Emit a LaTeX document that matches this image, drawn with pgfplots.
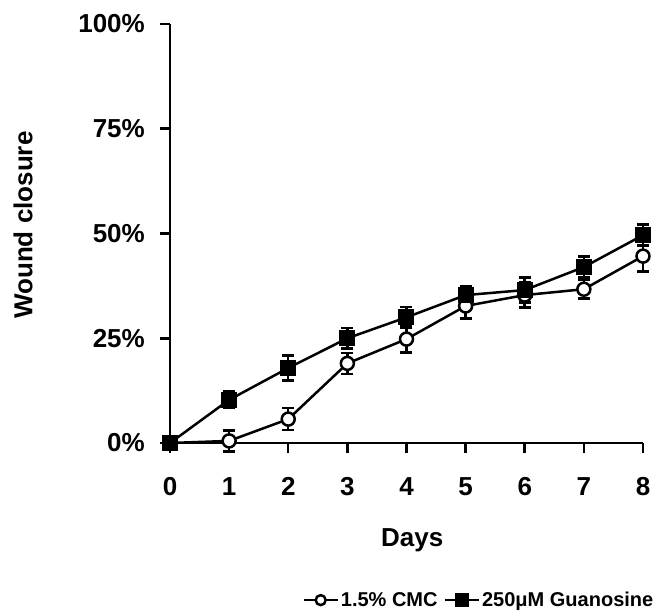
\documentclass[border=0pt]{standalone}
\usepackage{pgfplots}
\pgfplotsset{compat=1.18}
\usepackage{fontspec}
\setmainfont{Liberation Sans}
\begin{document}
\begin{tikzpicture}
\begin{axis}[
  at={(0,0)}, anchor=south west,
  scale only axis,
  width=473pt, height=419pt,
  xmin=0, xmax=8, ymin=0, ymax=100,
  axis lines=left,
  axis line style={-, line width=2.5pt},
  clip=false,
  tick align=outside,
  xtick pos=left, ytick pos=left,
  major tick length=10pt,
  tick style={line width=2.5pt, black},
  xtick={0,1,2,3,4,5,6,7,8},
  xticklabels={0,1,2,3,4,5,6,7,8},
  ytick={0,25,50,75,100},
  yticklabels={0\%,25\%,50\%,75\%,100\%},
  tick label style={font=\fontsize{26}{30}\selectfont\bfseries, inner sep=0pt},
  xticklabel style={anchor=north, yshift=-24pt},
  yticklabel style={anchor=east, xshift=-15pt},
  xlabel={Days},
  ylabel={Wound closure},
  label style={font=\fontsize{26}{30}\selectfont\bfseries, inner sep=0pt},
  xlabel style={at={([yshift=-85pt]rel axis cs:0.512,0)}, anchor=north},
  ylabel style={at={([xshift=-147pt]rel axis cs:0,0.52)}, anchor=center, rotate=0},
  legend columns=2,
  legend style={draw=none, fill=none, font=\fontsize{20}{24}\selectfont\bfseries,
    at={(rel axis cs:0.653,-0.375)}, anchor=center,
    /tikz/every even column/.append style={column sep=4pt}},
]
\addplot[black, line width=2.5pt, mark=*, mark size=6.5pt,
  mark options={fill=white, line width=2.5pt},
  legend image code/.code={\draw[black, line width=2.5pt] (0pt,0pt) -- (34pt,0pt);
     \draw[black, line width=2.5pt, fill=white] (17pt,0pt) circle (5pt);},
  error bars/.cd, y dir=both, y explicit,
  error bar style={line width=2.5pt},
  error mark options={rotate=90, mark size=6pt, line width=2.5pt}]
  coordinates {
  (0,0) +- (0,0)
  (1,0.5) +- (0,2.5)
  (2,5.7) +- (0,2.6)
  (3,19) +- (0,2.5)
  (4,24.8) +- (0,3.2)
  (5,32.7) +- (0,3)
  (6,35.3) +- (0,3)
  (7,36.7) +- (0,2.2)
  (8,44.6) +- (0,3.7)
  };
\addlegendentry{1.5\% CMC}
\addplot[black, line width=2.5pt, mark=square*, mark size=7.5pt,
  mark options={fill=black, line width=1pt},
  legend image code/.code={\draw[black, line width=2.5pt] (0pt,0pt) -- (34pt,0pt);
     \fill[black] (11pt,-6pt) rectangle (23pt,6pt);},
  error bars/.cd, y dir=both, y explicit,
  error bar style={line width=2.5pt},
  error mark options={rotate=90, mark size=6pt, line width=2.5pt}]
  coordinates {
  (0,0) +- (0,0)
  (1,10.3) +- (0,2)
  (2,17.9) +- (0,3)
  (3,25) +- (0,2.5)
  (4,30) +- (0,2.5)
  (5,35.3) +- (0,2)
  (6,36.5) +- (0,3)
  (7,42) +- (0,2.5)
  (8,49.6) +- (0,2.5)
  };
\addlegendentry{250μM Guanosine}
\end{axis}
\pgfresetboundingbox
\path (-170pt,-173pt) rectangle (484pt,443pt);
\end{tikzpicture}
\end{document}
